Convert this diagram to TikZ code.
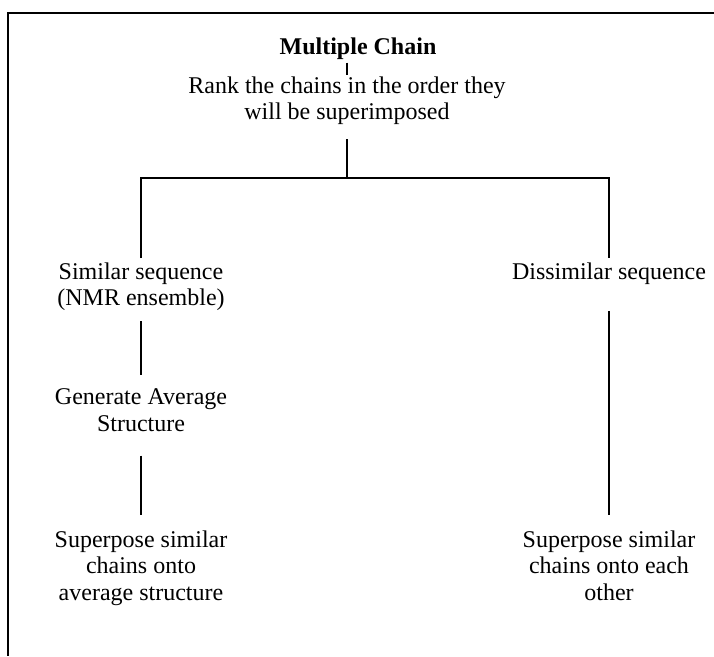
\documentclass[tikz,border=0pt]{standalone}
\usepackage{fontspec}
\setmainfont{Liberation Serif}
\begin{document}
\begin{tikzpicture}[x=1pt,y=-1pt,
  txt/.style={align=center, inner sep=0pt, anchor=north,
              font=\fontsize{24}{26.5}\selectfont},
  conn/.style={line width=1.3pt},
  frame/.style={line width=1.6pt}]
\useasboundingbox (0,0) rectangle (714,656);
% open frame: top and left edges only
\draw[frame] (714,13) -- (8,13) -- (8,656);

% text blocks
\node[txt, font=\fontsize{24}{26.5}\selectfont\bfseries] (mc) at (358,37.6) {Multiple Chain};
\node[txt] (rank) at (347,76.6) {Rank the chains in the order they\\will be superimposed};
\node[txt] (sim)  at (141,262.6) {Similar sequence\\(NMR ensemble)};
\node[txt] (dis)  at (609,262.6) {Dissimilar sequence};
\node[txt] (gen)  at (141,388.7) {Generate Average\\Structure};
\node[txt] (supl) at (141,530.6) {Superpose similar\\chains onto\\average structure};
\node[txt] (supr) at (609,530.6) {Superpose similar\\chains onto each\\other};

\coordinate (split) at (347,178);

% connectors
\draw[conn] ([yshift=-2.8pt]mc.south -| rank.north) -- ([yshift=1.6pt]rank.north);
\draw[conn] ([yshift=-14pt]rank.south) -- (split);
\draw[conn] ([yshift=4.6pt]sim.north) |- (split) -| ([yshift=4.6pt]dis.north);
\draw[conn] ([yshift=-10pt]sim.south) -- ([yshift=13.7pt]gen.north);
\draw[conn] ([yshift=-24pt]gen.south) -- ([yshift=15.6pt]supl.north);
\draw[conn] ([yshift=-26pt]dis.south) -- ([yshift=15.6pt]supr.north);
\end{tikzpicture}
\end{document}
